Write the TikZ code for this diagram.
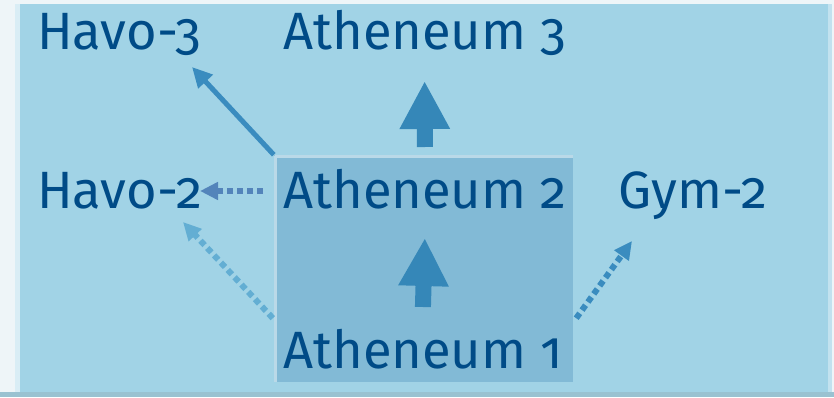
\documentclass[tikz,border=0pt]{standalone}
\usepackage{fontspec}
\setmainfont{Fira Sans}[Numbers=OldStyle]
\usepackage{tikz}
\usetikzlibrary{arrows.meta}
\definecolor{paleback}{HTML}{EEF5F8}
\definecolor{outerbox}{HTML}{A1D3E6}
\definecolor{innerbox}{HTML}{82BAD6}
\definecolor{labelblue}{HTML}{004B87}
\definecolor{blockblue}{HTML}{3587B8}
\definecolor{midblue}{HTML}{3A8CBF}
\definecolor{dotblue}{HTML}{5384BA}
\definecolor{lightdot}{HTML}{63AED3}
\tikzset{
  label text/.style={anchor=base west,inner sep=0pt,text=labelblue,font=\fontsize{52.5}{60}\selectfont},
  blockarrow/.style={line width=16pt,line cap=butt,blockblue,-{Triangle[width=47pt,length=48pt]}},
  thinarrow/.style={line width=5pt,line cap=butt,midblue,-{Triangle[width=19pt,length=20pt]}},
  dotarrow/.style={line width=6pt,line cap=butt,dash pattern=on 6pt off 4pt,-{Triangle[width=17pt,length=18pt]}}
}
\begin{document}
\begin{tikzpicture}[line join=round,x=1pt,y=1pt]
      \useasboundingbox (0,0) rectangle (834,397);
      \fill [paleback] (0,0) rectangle (834,397);
      \fill [color=outerbox!80!gray] (0,0) rectangle (834,5);
      % outer panel
      \fill [outerbox] (15,5) rectangle (832,393);
      \fill [color=outerbox!40!white] (15,5) rectangle (20,393);
      \fill [color=outerbox!65!white] (828,5) rectangle (832,393);
      % inner panel
      \fill [innerbox] (274,15) rectangle (573,242);
      \node [inner sep=0pt,minimum width=299pt,minimum height=227pt] (core) at (423.5,128.5) {};
      \draw [line width=3pt,color=innerbox!55!white] (275.5,15) -- (275.5,240.5) -- (573,240.5);
      \draw (37,347) node[label text] (h3) {Havo-3};
      \draw (283,347) node[label text] (a3) {Atheneum 3};
      \draw (37,189) node[label text] (h2) {Havo-2};
      \draw (283,189) node[label text] (a2) {Atheneum 2};
      \draw (618,189) node[label text] (g2) {Gym-2};
      \draw (283,29) node[label text] (a1) {Atheneum 1};
      \path (core.south west) ++(-1,64) coordinate (lowwest);
      \path (core.south east) ++(3,64) coordinate (loweast);
      \path (h3.base west) ++(155,-17) coordinate (h3tip);
      \path (h2.base west) ++(163,17) coordinate (h2tip);
      \path (h2.base west) ++(146,-14) coordinate (h2low);
      \path (g2.base west) ++(14,-33) coordinate (g2tip);
      \path (a2.base west) ++(-20,17) coordinate (a2left);
      \draw [blockarrow] ([yshift=61pt]a1.base) -- ([yshift=-30pt]a2.base);
      \draw [blockarrow] ([yshift=61pt]a2.base) -- ([yshift=-31pt]a3.base);
      \draw [thinarrow] (core.north west) -- (h3tip);
      \draw [dotarrow,dotblue] (a2left) -- (h2tip);
      \draw [dotarrow,lightdot] (lowwest) -- (h2low);
      \draw [dotarrow,midblue] (loweast) -- (g2tip);
\end{tikzpicture}
\end{document}
